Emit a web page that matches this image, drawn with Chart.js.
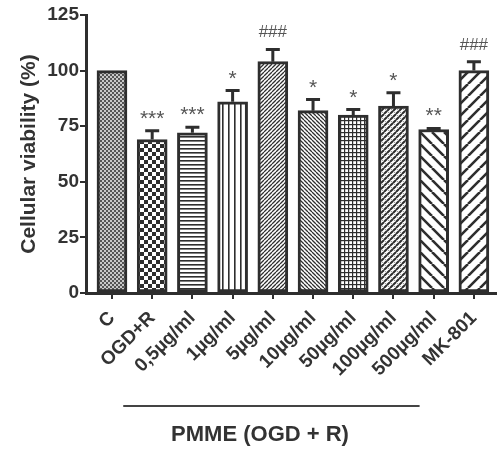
<!DOCTYPE html>
<html lang="en">
<head>
    <meta charset="UTF-8">
    <title>Cellular viability</title>
    <script src="https://cdn.jsdelivr.net/npm/chart.js"></script>
    <style>
        body {
            margin: 0;
            background: #fff;
        }
    </style>
</head>
<body>
    <canvas id="viabilityChart" width="500" height="453"></canvas>

    <script>
        // Dados
        const categories = ['C', 'OGD+R', '0,5µg/ml', '1µg/ml', '5µg/ml', '10µg/ml', '50µg/ml', '100µg/ml', '500µg/ml', 'MK-801'];
        const viability = [100, 69, 72, 86, 104, 82, 80, 84, 73.5, 100];
        const sem = [0, 4, 2.5, 5, 5.5, 5, 2.5, 6, 0.5, 4];
        const significance = ['', '***', '***', '*', '###', '*', '*', '*', '**', '###'];
        const yTicks = [0, 25, 50, 75, 100, 125];

        const INK = '#2e2e2e';

        // Padrões de preenchimento das barras
        function makePattern(size, draw) {
            const c = document.createElement('canvas');
            c.width = size;
            c.height = size;
            const g = c.getContext('2d');
            g.fillStyle = '#fff';
            g.fillRect(0, 0, size, size);
            g.strokeStyle = INK;
            g.fillStyle = INK;
            draw(g, size);
            return g.createPattern(c, 'repeat');
        }

        function diag(g, s, dir, w) {
            g.lineWidth = w;
            g.beginPath();
            for (let k = -1; k <= 1; k++) {
                if (dir === '/') {
                    g.moveTo(k * s, s);
                    g.lineTo(k * s + s, 0);
                } else {
                    g.moveTo(k * s, 0);
                    g.lineTo(k * s + s, s);
                }
            }
            g.stroke();
        }

        const patterns = [
            makePattern(4, (g) => { g.fillStyle = '#c8c8c8'; g.fillRect(0, 0, 4, 4); g.fillStyle = '#555'; g.fillRect(0, 0, 2, 2); g.fillRect(2, 2, 2, 2); }),
            makePattern(8, (g) => { g.fillRect(0, 0, 4, 4); g.fillRect(4, 4, 4, 4); }),
            makePattern(4, (g) => { g.fillRect(0, 0, 4, 1.6); }),
            makePattern(6, (g) => { g.fillRect(0, 0, 1.6, 6); }),
            makePattern(4, (g) => diag(g, 4, '/', 1.3)),
            makePattern(4, (g) => diag(g, 4, '\\', 1.3)),
            makePattern(4, (g) => { g.fillRect(0, 0, 4, 1.2); g.fillRect(0, 0, 1.2, 4); }),
            makePattern(6, (g) => { diag(g, 6, '/', 2); g.strokeStyle = '#888'; diag(g, 6, '\\', 0.8); }),
            makePattern(12, (g) => diag(g, 12, '\\', 2.6)),
            makePattern(12, (g) => diag(g, 12, '/', 2.6))
        ];

        // Barras de erro e marcas de significância
        const errorBarPlugin = {
            id: 'errorBars',
            afterDatasetsDraw(chart) {
                const ctx = chart.ctx;
                const y = chart.scales.y;
                const meta = chart.getDatasetMeta(0);
                ctx.save();
                meta.data.forEach((bar, i) => {
                    const top = y.getPixelForValue(viability[i] + sem[i]);
                    if (sem[i] > 0) {
                        ctx.strokeStyle = INK;
                        ctx.lineWidth = 3;
                        ctx.beginPath();
                        ctx.moveTo(bar.x, bar.y);
                        ctx.lineTo(bar.x, top);
                        ctx.moveTo(bar.x - 7, top);
                        ctx.lineTo(bar.x + 7, top);
                        ctx.stroke();
                    }
                    const mark = significance[i];
                    if (mark) {
                        const hash = mark[0] === '#';
                        ctx.font = hash ? '17px "Liberation Sans"' : '21px "Liberation Sans"';
                        ctx.fillStyle = '#555';
                        ctx.textAlign = 'center';
                        ctx.textBaseline = 'alphabetic';
                        const m = ctx.measureText(mark);
                        ctx.fillText(mark, bar.x, top - 12 - m.actualBoundingBoxDescent);
                    }
                });
                ctx.restore();
            },
            afterDraw(chart) {
                const ctx = chart.ctx;
                const x = chart.scales.x;
                const base = chart.chartArea.bottom;
                ctx.save();
                ctx.strokeStyle = '#444';
                ctx.lineWidth = 2;
                ctx.beginPath();
                ctx.moveTo(x.getPixelForValue(0.28), base + 113);
                ctx.lineTo(x.getPixelForValue(7.65), base + 113);
                ctx.stroke();
                ctx.fillStyle = '#333';
                ctx.font = 'bold 22px "Liberation Sans"';
                ctx.textAlign = 'center';
                ctx.textBaseline = 'middle';
                ctx.fillText('PMME (OGD + R)', 260, base + 142);
                ctx.restore();
            }
        };

        const ctx = document.getElementById('viabilityChart').getContext('2d');
        const viabilityChart = new Chart(ctx, {
            type: 'bar',
            data: {
                datasets: [{
                    data: viability.map((v, i) => ({ x: i, y: v })),
                    backgroundColor: patterns,
                    borderColor: INK,
                    borderWidth: 3,
                    borderSkipped: false,
                    barThickness: 30
                }]
            },
            options: {
                responsive: false,
                animation: false,
                layout: {
                    padding: { top: 15, right: 4, left: 0, bottom: 0 }
                },
                plugins: {
                    legend: { display: false },
                    tooltip: { enabled: false }
                },
                scales: {
                    x: {
                        type: 'linear',
                        offset: false,
                        min: -0.646,
                        max: 9.55,
                        afterBuildTicks: (s) => { s.ticks = categories.map((c, i) => ({ value: i })); },
                        afterFit: (s) => { s.height = 160; },
                        grid: {
                            offset: false,
                            drawOnChartArea: false,
                            drawTicks: true,
                            tickLength: 6,
                            color: INK,
                            lineWidth: 2
                        },
                        border: { color: INK, width: 3 },
                        ticks: {
                            autoSkip: false,
                            minRotation: 45,
                            maxRotation: 45,
                            padding: 8,
                            color: '#333',
                            font: { family: 'Liberation Sans', size: 19, weight: 'bold' },
                            callback: (value) => categories[value]
                        }
                    },
                    y: {
                        min: yTicks[0],
                        max: yTicks[yTicks.length - 1],
                        afterBuildTicks: (s) => { s.ticks = yTicks.map((v) => ({ value: v })); },
                        afterFit: (s) => { s.width = 86; },
                        grid: {
                            drawOnChartArea: false,
                            drawTicks: true,
                            tickLength: 6,
                            color: INK,
                            lineWidth: 2
                        },
                        border: { color: INK, width: 3 },
                        ticks: {
                            padding: 1,
                            color: '#333',
                            font: { family: 'Liberation Sans', size: 19, weight: 'bold' }
                        },
                        title: {
                            display: true,
                            text: 'Cellular viability (%)',
                            color: '#333',
                            padding: { top: 17, bottom: 0 },
                            font: { family: 'Liberation Sans', size: 21, weight: 'bold' }
                        }
                    }
                }
            },
            plugins: [errorBarPlugin]
        });
    </script>
</body>
</html>
